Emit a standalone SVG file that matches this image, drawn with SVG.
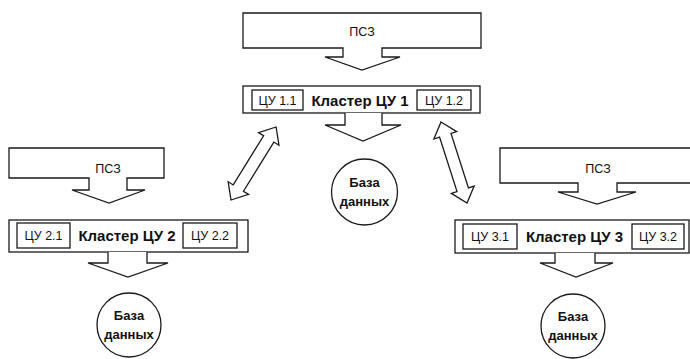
<svg xmlns="http://www.w3.org/2000/svg" width="690" height="359" viewBox="0 0 690 359">
<style>
.s{fill:#fff;stroke:#1a1a1a;stroke-width:1.3;stroke-linejoin:miter}
.t{font-family:"Liberation Sans",Arial,sans-serif;fill:#111;text-anchor:middle}
.psz{font-size:12.5px}
.cu{font-size:12.5px}
.cl{font-size:15px;font-weight:bold}
.db{font-size:13px;font-weight:bold}
</style>
<rect width="690" height="359" fill="#fff"/>
<g id="psz1">
<path class="s" d="M243,13 H481 V48 H382 V57 H400 L362,70 L325,57 H343 V48 H243 Z"/>
<text class="t psz" x="362" y="36">ПСЗ</text>
</g>
<g id="cluster1">
<rect class="s" x="243" y="86" width="237" height="27"/>
<rect class="s" x="252" y="90" width="51" height="20"/>
<rect class="s" x="417" y="90" width="54" height="20"/>
<text class="t cu" x="277.5" y="105">ЦУ 1.1</text>
<text class="t cu" x="444" y="105">ЦУ 1.2</text>
<text class="t cl" x="360" y="106">Кластер ЦУ 1</text>
</g>
<g id="db1">
<circle class="s" cx="364.5" cy="192" r="33"/>
<text class="t db" x="364.5" y="187">База</text>
<text class="t db" x="364.5" y="206">данных</text>
</g>
<g id="psz2">
<path class="s" d="M9,148 H164 V178 H127 V190 H145 L109,203 L72,190 H89 V178 H9 Z"/>
<text class="t psz" x="108" y="173">ПСЗ</text>
</g>
<g id="cluster2">
<rect class="s" x="9" y="220" width="239" height="32"/>
<rect class="s" x="17" y="223" width="53" height="25"/>
<rect class="s" x="183" y="223" width="54" height="25"/>
<text class="t cu" x="43.5" y="240">ЦУ 2.1</text>
<text class="t cu" x="210" y="240">ЦУ 2.2</text>
<text class="t cl" x="127" y="241">Кластер ЦУ 2</text>
</g>
<g id="db2">
<circle class="s" cx="129" cy="325" r="32"/>
<text class="t db" x="129" y="320">База</text>
<text class="t db" x="129" y="339">данных</text>
</g>
<g id="psz3">
<path class="s" d="M700,148 H500 V183 H578 V192 H558 L597,204 L636,192 H617 V183 H700"/>
<text class="t psz" x="598" y="173">ПСЗ</text>
</g>
<g id="cluster3">
<rect class="s" x="455" y="220" width="234" height="33"/>
<rect class="s" x="463" y="224" width="54" height="25"/>
<rect class="s" x="632" y="224" width="52" height="25"/>
<text class="t cu" x="490" y="241">ЦУ 3.1</text>
<text class="t cu" x="658" y="241">ЦУ 3.2</text>
<text class="t cl" x="574.5" y="242">Кластер ЦУ 3</text>
</g>
<g id="db3">
<circle class="s" cx="573" cy="326" r="32"/>
<text class="t db" x="573" y="321">База</text>
<text class="t db" x="573" y="340">данных</text>
</g>
<g id="connectors">
<path class="s" d="M345,113 V125 H325 L363,141 L401,125 H382 V113"/>
<path class="s" d="M108,252 V263 H88 L128,277 L168,263 H147 V252"/>
<path class="s" d="M555,253 V263 H540 L576,277 L613,263 H595 V253"/>
<path class="s" transform="translate(231,200) rotate(-58.3)" d="M0,0 L14,-12 L14,-6 L71.8,-6 L71.8,-12 L85.8,0 L71.8,12 L71.8,6 L14,6 L14,12 Z"/>
<path class="s" transform="translate(441,122) rotate(72.2)" d="M0,0 L14,-12 L14,-6 L71.1,-6 L71.1,-12 L85.1,0 L71.1,12 L71.1,6 L14,6 L14,12 Z"/>
</g>
</svg>
